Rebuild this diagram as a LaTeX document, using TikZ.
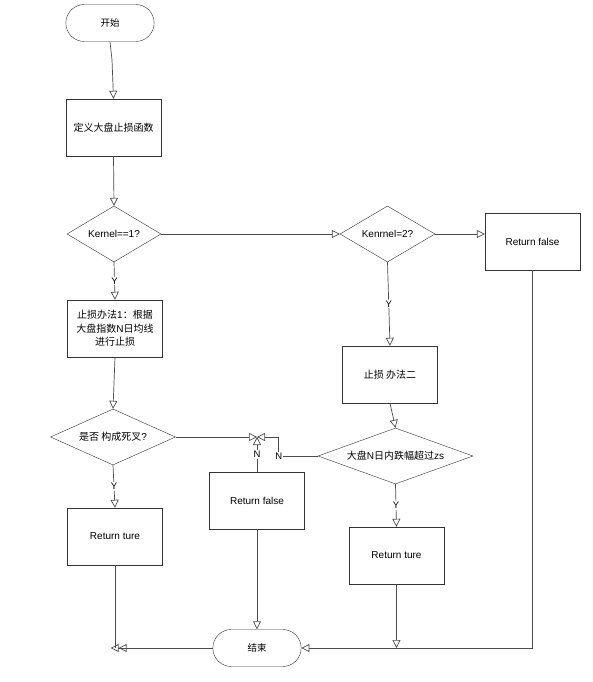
\documentclass[tikz,border=0pt]{standalone}
\usepackage{fontspec}
\setmainfont{Liberation Sans}
\newfontfamily\zh{Noto Sans CJK SC}
\usetikzlibrary{positioning, arrows.meta, shapes.geometric, shapes.misc, calc}

\begin{document}
\begin{tikzpicture}[
    x=1pt, y=-1pt,
    term/.style={rounded rectangle, draw=black!80, fill=white, minimum width=95pt, minimum height=37pt, font=\zh\fontsize{9.5}{11}\selectfont},
    proc/.style={rectangle, draw=black!80, fill=white, minimum width=95pt, minimum height=57pt, font=\fontsize{10}{13.3}\selectfont, align=center, inner sep=2pt},
    dec/.style={diamond, draw=black!80, fill=white, minimum height=56pt, inner sep=1pt, font=\fontsize{10}{11}\selectfont, align=center},
    arr/.style={-{Triangle[open, length=8pt, width=8pt]}, draw=black!70, line width=0.7pt},
    darr/.style={-{Triangle[open, length=8pt, width=8pt]Triangle[open, length=8pt, width=8pt]}, draw=black!70, line width=0.7pt},
    line/.style={draw=black!70, line width=0.7pt},
    lbl/.style={fill=white, inner sep=1pt, font=\fontsize{9.5}{11}\selectfont}
]
    \fill[white] (0,0) rectangle (592,682);
    \useasboundingbox (0,0) rectangle (592,682);

    % left column
    \node[term] (start) at (110,23) {开始};
    \node[proc] (def) at (113.5,127.5) {{\zh 定义大盘止损函数}};
    \node[dec, minimum width=94pt, aspect=1.68] (k1) at (114,234) {Kernel==1?};
    \node[proc] (m1) at (115,328.5) {{\zh 止损办法}1{\zh ：根据}\\{\zh 大盘指数}N{\zh 日均线}\\{\zh 进行止损}};
    \node[dec, minimum width=125pt, aspect=2.23] (cross) at (113,437) {{\zh 是否 构成死叉}?};
    \node[proc] (rture1) at (115,536.5) {Return ture};

    % right columns
    \node[dec, minimum width=95pt, aspect=1.7] (k2) at (387.5,234) {Kenrnel=2?};
    \node[proc] (rfalse1) at (532.5,241.5) {Return false};
    \node[proc] (m2) at (390,374.5) {{\zh 止损 办法二}};
    \node[dec, minimum width=155pt, aspect=2.77] (drop) at (395.5,456) {{\zh 大盘}N{\zh 日内跌幅超过}zs};
    \node[proc] (rture2) at (396.5,555.5) {Return ture};
    \node[proc] (rfalse2) at (257,500.5) {Return false};
    \node[term] (stop) at (257,648) {结束};

    \coordinate (J) at (257,437);

    \draw[arr] (start.south) -- ++(2,18) -- (def.north);
    \draw[arr] (def.south) -- (k1.north);
    \draw[arr] (k1.east) -- (k2.west);
    \draw[arr] (k2.east) -- (rfalse1.west |- k2.east);
    \draw[arr] (k1.south) -- node[lbl] {Y} (m1.north);
    \draw[arr] (m1.south) -- (cross.north);
    \draw[arr] (cross.south) -- node[lbl] {Y} (rture1.north);
    \draw[arr] (k2.south) -- node[lbl] {Y} (m2.north);
    \draw[arr] (m2.south) -- (drop.north);
    \draw[arr] (drop.south) -- node[lbl] {Y} (rture2.north);

    % N branches meet at one point
    \draw[arr] (cross.east) -- (J);
    \draw[arr] (drop.west) -- ++(-39,0) node[lbl] {N} |- (J);
    \draw[arr] (rfalse2.north) -- node[lbl] {N} (J);

    % to the end
    \draw[arr] (rfalse2.south) -- (stop.north);
    \draw[arr] (rfalse1.south) |- (stop.east);
    \draw[arr] (rture2.south) -- (rture2.south |- stop.east);
    \draw[line] (rture1.south) -- (rture1.south |- stop.west);
    \draw[darr] (stop.west) -- ++(-102,0);
\end{tikzpicture}
\end{document}
